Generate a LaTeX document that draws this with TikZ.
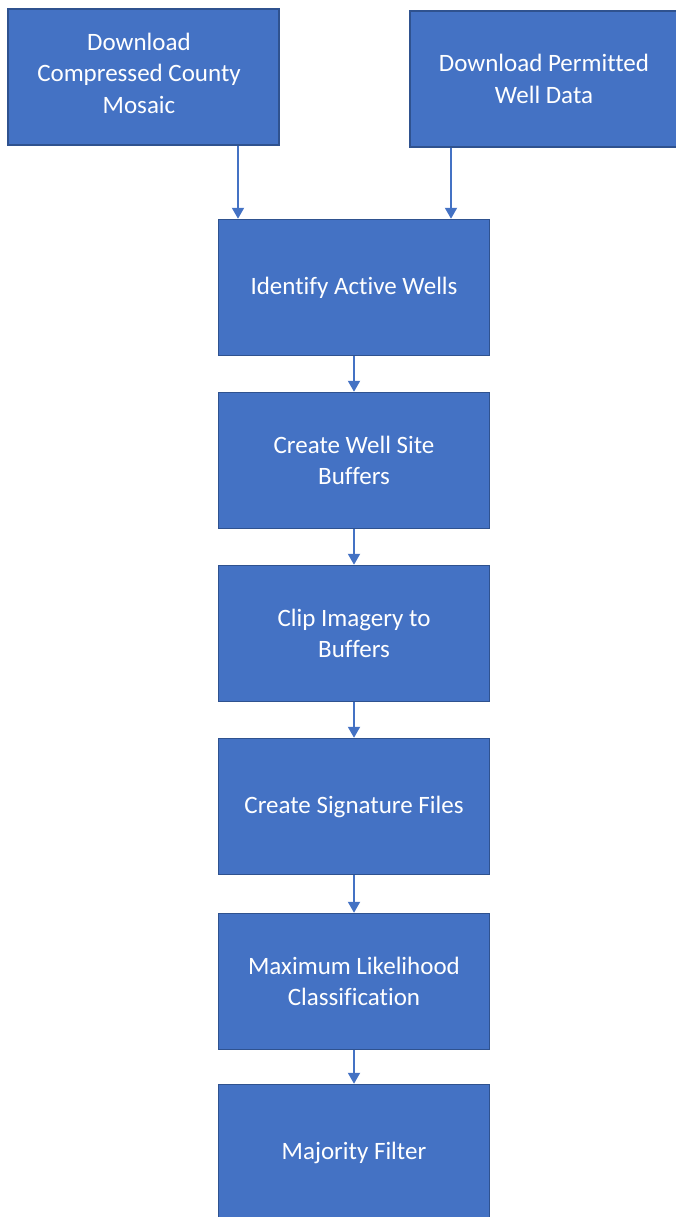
\documentclass[tikz,border=0pt]{standalone}
\usepackage{fontspec}
\setmainfont{Carlito}[Ligatures=NoCommon]
\usetikzlibrary{arrows.meta}
\definecolor{boxfill}{HTML}{4472C4}
\definecolor{boxline}{HTML}{2F528F}
\begin{document}
\begin{tikzpicture}[x=1pt,y=-1pt,
  procbox/.style={draw=boxline,line width=1.5pt,fill=boxfill,text=white,
    minimum width=271pt,minimum height=136pt,align=center,inner sep=0pt,
    font=\fontsize{25}{31.5}\selectfont},
  boxtext/.style={text=white,align=center,inner sep=0pt,font=\fontsize{25}{31.5}\selectfont},
  flow/.style={draw=boxfill,line width=2pt,-{Triangle[length=11pt,width=12pt]}}]
\useasboundingbox (0,0) rectangle (676,1217);
\begin{scope}
\clip (0,0) rectangle (676,1217);
\node[procbox] (dl1) at (143.5,77) {};
\node[boxtext] (dl1t) at (139,73) {Download\\Compressed County\\Mosaic};
\node[procbox,minimum width=290pt] (dl2) at (555,79) {};
\node[boxtext] (dl2t) at (544,79) {Download Permitted\\Well Data};
\node[procbox] (act) at (354,287.5) {Identify Active Wells};
\node[procbox] (buf) at (354,460.5) {Create Well Site\\Buffers};
\node[procbox] (clip) at (354,633.5) {Clip Imagery to\\Buffers};
\node[procbox] (sig) at (354,806.5) {Create Signature Files};
\node[procbox] (mlc) at (354,981.5) {Maximum Likelihood\\Classification};
\node[procbox] (maj) at (354,1152.5) {Majority Filter};
\end{scope}
\draw[flow] (dl1.south -| 238,0) -- (act.north -| 238,0);
\draw[flow] (dl2.south -| 451,0) -- (act.north -| 451,0);
\draw[flow] (act) -- (buf);
\draw[flow] (buf) -- (clip);
\draw[flow] (clip) -- (sig);
\draw[flow] (sig) -- (mlc);
\draw[flow] (mlc) -- (maj);
\end{tikzpicture}
\end{document}
